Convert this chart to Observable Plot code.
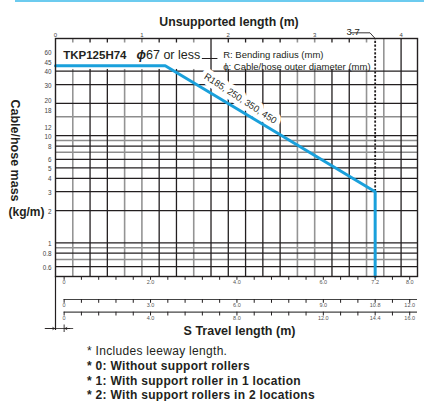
<!DOCTYPE html>
<html><head><meta charset="utf-8">
<script src="https://cdn.jsdelivr.net/npm/d3@7"></script>
<script src="https://cdn.jsdelivr.net/npm/@observablehq/plot@0.6"></script>
<style>
body{margin:0;background:#fff;font-family:"Liberation Sans",Arial,Helvetica,sans-serif;}
#wrap{position:relative;width:424px;height:401px;overflow:hidden;}
#band{position:absolute;left:15px;top:0;width:409px;height:2px;background:#6ccbef;}
#chart{position:absolute;left:0;top:0;}
#notes{position:absolute;left:87px;top:344px;font-size:12px;line-height:14.8px;color:#231f20;letter-spacing:0.3px;white-space:nowrap;}
#notes .b{font-weight:bold;}
</style></head><body>
<div id="wrap">
<div id="chart"></div>
<div id="band"></div>
<div id="notes">
<div>* Includes leeway length.</div>
<div class="b">* 0: Without support rollers</div>
<div class="b">* 1: With support roller in 1 location</div>
<div class="b">* 2: With support rollers in 2 locations</div>
</div>
</div>
<script>
// ---- data ----
const massTicks = [60, 40, 30, 12, 10, 8, 6, 5, 4, 3, 2, 1, 0.8, 0.6];
const massTicksRaised = [45, 20];
const massTicksLowered = [18];
const lengthTicks = [0, 1, 2, 3, 4];
const gridMassDark = [40, 30, 20, 10, 8, 6, 5, 4, 3, 2, 1, 0.8, 0.6];
const gridMassLight = [15, 9, 7, 0.9, 0.7];
const gridLengthDark = [0.4, 0.6, 1.2, 1.4, 1.8, 2.0, 2.2, 2.4, 2.6, 3.2, 3.4, 4.0];
const gridLengthLight = [0.2, 0.8, 1.0, 1.6, 2.8, 3.0, 3.6, 3.8];
const curveLength = [0, 1.27, 3.7, 3.7];
const curveMass = [45, 45, 3, 0.485];
const limitLength = 3.7;
const limitMass = 3;
const leeway = 0.1;
const travel0Labels = [0, 2.0, 4.0, 6.0, 7.2, 8.0];
const travel1Labels = [0, 3.0, 6.0, 9.0, 10.8, 12.0];
const travel2Labels = [0, 4.0, 8.0, 12.0, 14.4, 16.0];
const travel0Ticks = [0,0.4,0.8,1.2,1.6,2.0,2.4,2.8,3.2,3.6,4.0,4.4,4.8,5.2,5.6,6.0,6.4,6.8,7.2,7.6,8.0];
const travel1Ticks = [0,0.6,1.2,1.8,2.4,3.0,3.6,4.2,4.8,5.4,6.0,6.6,7.2,7.8,8.4,9.0,9.6,10.2,10.8,11.4,12.0];
const travel2Ticks = [0,0.8,1.6,2.4,3.2,4.0,4.8,5.6,6.4,7.2,8.0,8.8,9.6,10.4,11.2,12.0,12.8,13.6,14.4,15.2,16.0];

// ---- layout ----
const W = 424, H = 344, mL = 55, mR = 7, mT = 38, mB = 68;
const frameH = H - mT - mB;
const yMin = 0.485, yMax = 80.7, xMax = 4.19;
const ink = "#231f20";
const font = "'Liberation Sans', Arial, Helvetica, sans-serif";

const curve = curveLength.map((L, i) => ({L, m: curveMass[i]}));
const toL = k => s => leeway + s / k;
const fmt = d => d === 0 ? "0" : d.toFixed(1);

function travelRow(ticks, labels, k, off, withLine) {
  const m = [];
  if (withLine) m.push(Plot.ruleY([yMin], {x1: leeway, x2: xMax, dy: off, stroke: "#444", strokeWidth: 1.2}));
  m.push(Plot.tickX(ticks, {x: toL(k), insetTop: frameH + off, insetBottom: -(off + 3.8), stroke: ink, strokeWidth: 1}));
  m.push(Plot.text(labels, {x: toL(k), text: fmt, frameAnchor: "bottom", dy: off + 7.5, fontSize: 5.5, fill: "#555"}));
  return m;
}
const massLabel = (data, dy) => Plot.text(data, {y: d => d, text: d => String(d), frameAnchor: "left", textAnchor: "end", dx: -4, dy, fontSize: 6.3, fill: "#444"});

const chart = Plot.plot({
  width: W, height: H,
  marginLeft: mL, marginRight: mR, marginTop: mT, marginBottom: mB,
  x: {domain: [0, xMax], axis: null},
  y: {type: "log", domain: [yMin, yMax], axis: null},
  style: {fontFamily: font, background: "transparent", color: ink},
  marks: [
    // grid
    Plot.ruleY(gridMassLight, {stroke: "#8d8d8d", strokeWidth: 1.5}),
    Plot.ruleX(gridLengthLight, {stroke: "#949494", strokeWidth: 1.6}),
    Plot.ruleY(gridMassDark, {stroke: ink, strokeWidth: 1.3}),
    Plot.ruleX(gridLengthDark, {stroke: ink, strokeWidth: 1.3}),
    // white title / legend panels
    Plot.rect([[0, 1.78], [1.82, 3.66]], {x1: d => d[0], x2: d => d[1], y1: 41.5, y2: yMax, insetTop: 4.5, fill: "white"}),
    Plot.ruleY([52.5], {x1: 1.7, x2: 1.88, stroke: ink, strokeWidth: 1}),
    // limit dotted line + label
    Plot.ruleX([limitLength], {y1: limitMass, y2: yMax, stroke: ink, strokeWidth: 1.8, strokeDasharray: "2.2,1.6"}),
    Plot.line([[3.42, yMax * 1.13], [3.64, yMax * 1.13], [limitLength, yMax]], {x: d => d[0], y: d => d[1], stroke: ink, strokeWidth: 0.9}),
    Plot.text([limitLength], {x: d => d, text: d => String(d), frameAnchor: "top", dx: -22, dy: -10, fontSize: 9.5, fill: ink}),
    // rotated radius label knock-out
    Plot.text(["R185, 250, 350, 450"], {x: 2.14, y: 22.2, text: d => d, rotate: 33, fontSize: 9.3, fill: "white", stroke: "white", strokeWidth: 9, strokeLinejoin: "round"}),
    // curve
    Plot.line(curve, {x: "L", y: "m", stroke: "#1aa0db", strokeWidth: 3}),
    // frame
    Plot.frame({stroke: ink, strokeWidth: 1.4}),
    Plot.text(["R185, 250, 350, 450"], {x: 2.14, y: 22.2, text: d => d, rotate: 33, fontSize: 9.3, fill: ink}),
    // title and legend texts
    Plot.text(["TKP125H74"], {frameAnchor: "top-left", dx: 7.7, dy: 12, textAnchor: "start", fontSize: 11.5, fontWeight: "bold", fill: ink}),
    Plot.text(["ϕ"], {frameAnchor: "top-left", dx: 81, dy: 12, textAnchor: "start", fontSize: 12.5, fontWeight: "bold", fontStyle: "italic", fill: ink}),
    Plot.text(["67 or less"], {frameAnchor: "top-left", dx: 90.5, dy: 12, textAnchor: "start", fontSize: 12.5, fill: ink}),
    Plot.text(["R: Bending radius (mm)"], {frameAnchor: "top-left", dx: 167.7, dy: 12.5, textAnchor: "start", fontSize: 9.5, fill: ink}),
    Plot.text(["ϕ: Cable/hose outer diameter (mm)"], {frameAnchor: "top-left", dx: 167.7, dy: 24.5, textAnchor: "start", fontSize: 9.5, fill: ink}),
    // axes labels
    massLabel(massTicks, 1),
    massLabel(massTicksRaised, -2.5),
    massLabel(massTicksLowered, 2.5),
    Plot.text(lengthTicks, {x: d => d, text: d => String(d), frameAnchor: "top", dy: -6, fontSize: 6, fill: "#444"}),
    Plot.text(["Unsupported length (m)"], {frameAnchor: "top", dx: -7.5, dy: -21, fontSize: 12.3, fontWeight: "bold", fill: ink}),
    Plot.text(["Cable/hose mass"], {frameAnchor: "left", textAnchor: "middle", rotate: 90, dx: -41, dy: -7, fontSize: 12.5, fontWeight: "bold", fill: ink}),
    Plot.text(["(kg/m)"], {frameAnchor: "left", textAnchor: "start", dx: -47, dy: 55, fontSize: 12, fontWeight: "bold", fill: ink}),
    // travel length scales
    ...travelRow(travel0Ticks, travel0Labels, 2, 0, false),
    ...travelRow(travel1Ticks, travel1Labels, 3, 23, true),
    ...travelRow(travel2Ticks, travel2Labels, 4, 35.7, true),
    Plot.text(["S Travel length (m)"], {frameAnchor: "bottom", dx: 3, dy: 58, fontSize: 12.5, fontWeight: "bold", fill: ink}),
    // leeway dimension mark
    Plot.tickX([0], {insetTop: frameH, insetBottom: -54, stroke: ink, strokeWidth: 1.2}),
    Plot.tickX([leeway], {insetTop: frameH + 48.5, insetBottom: -56, stroke: ink, strokeWidth: 0.9}),
    Plot.link([0], {x1: -0.12, x2: 0.17, y1: yMin, y2: yMin, dy: 52, stroke: ink, strokeWidth: 0.8}),
    Plot.arrow([0], {x1: -0.12, x2: -0.01, y1: yMin, y2: yMin, dy: 52, headLength: 4, stroke: ink, strokeWidth: 0.8}),
    Plot.arrow([0], {x1: 0.2, x2: leeway + 0.01, y1: yMin, y2: yMin, dy: 52, headLength: 4, stroke: ink, strokeWidth: 0.8})
  ]
});
document.getElementById("chart").appendChild(chart);
</script>
</body></html>
